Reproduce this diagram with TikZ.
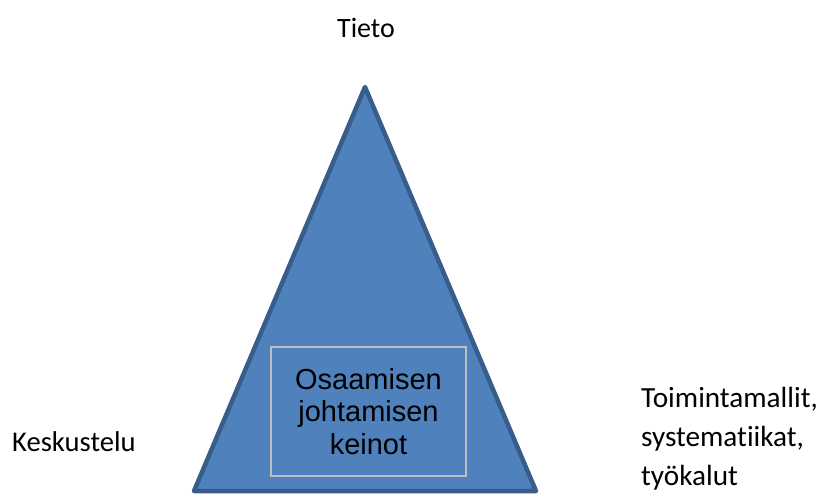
\documentclass[tikz,border=0pt]{standalone}
\usepackage{fontspec}
\setmainfont{Carlito}[Ligatures={NoCommon,NoRequired,NoContextual}]
\newfontfamily\arialfont{Liberation Sans}
\definecolor{trifill}{HTML}{4F81BD}
\definecolor{tridraw}{HTML}{385D8A}
\definecolor{boxline}{HTML}{BFBFBF}
\begin{document}
\begin{tikzpicture}[x=1pt,y=-1pt,
  lbl/.style={inner sep=0pt,font=\fontsize{28}{34.5}\selectfont},
  tri/.style={fill=trifill,draw=tridraw,line width=4.5pt,line join=round},
  innerbox/.style={draw=boxline,line width=1.5pt,inner sep=0pt,
    minimum width=195pt,minimum height=129pt,align=center,
    font=\arialfont\fontsize{29}{32.5}\selectfont}]
\useasboundingbox (0,0) rectangle (821,493);
\clip (0,0) rectangle (821,493);
\coordinate (apex) at (365,87);
\coordinate (bl) at (194,491);
\coordinate (br) at (536,491);
\filldraw[tri] (apex) -- (bl) -- (br) -- cycle;
\node[innerbox] (box) at (368.5,411.5) {Osaamisen\\johtamisen\\keinot};
\node[lbl,anchor=base] (tieto) at (366,37) {Tieto};
\node[lbl,anchor=base west,font=\fontsize{28.6}{34}\selectfont] (kesk) at (12,451) {Keskustelu};
\node[lbl,anchor=base west,align=left,font=\fontsize{29.2}{39}\selectfont] (toim) at (641,485) {Toimintamallit,\\systematiikat,\\työkalut};
\end{tikzpicture}
\end{document}
